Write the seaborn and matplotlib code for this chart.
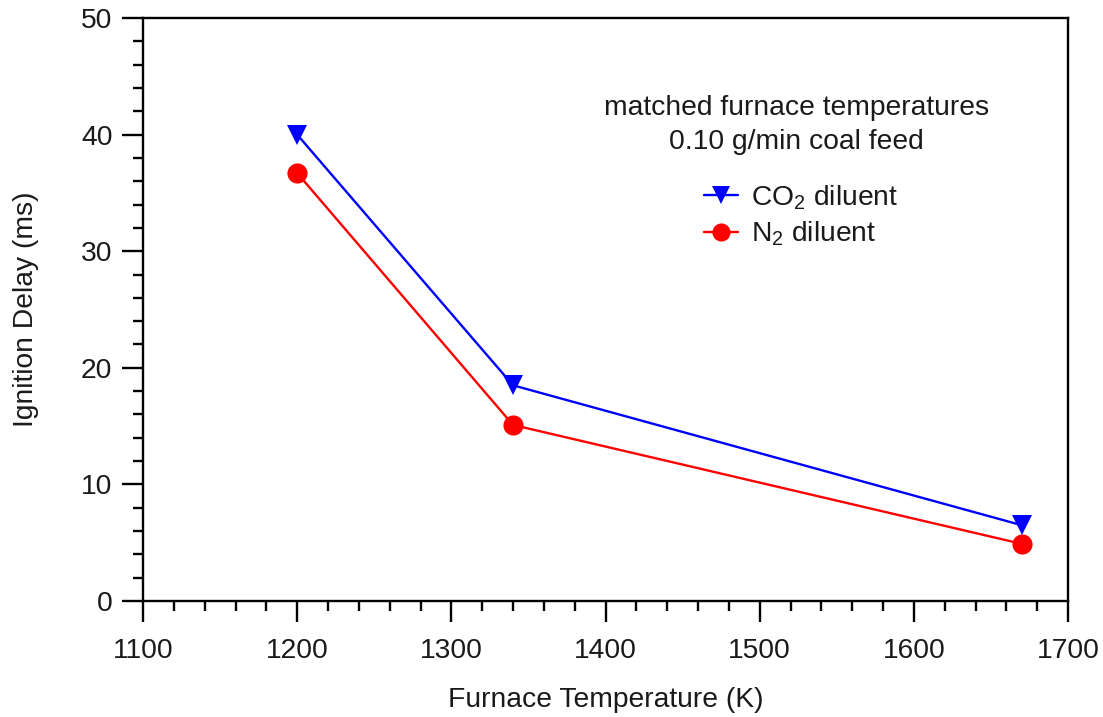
import matplotlib
matplotlib.use("Agg")
import matplotlib.pyplot as plt
import seaborn as sns
import pandas as pd
from matplotlib.ticker import MultipleLocator

temps = [1200, 1340, 1670]
co2_delay = [40.0, 18.5, 6.5]
n2_delay = [36.7, 15.1, 4.9]
series_names = ["CO$_\\mathregular{2}$ diluent", "N$_\\mathregular{2}$ diluent"]

sns.set_theme(style="ticks")
plt.rcParams['font.family'] = ['Liberation Sans', 'DejaVu Sans']
plt.rcParams['mathtext.fontset'] = 'custom'
plt.rcParams['mathtext.rm'] = 'Liberation Sans'
plt.rcParams['mathtext.it'] = 'Liberation Sans:italic'
plt.rcParams['mathtext.bf'] = 'Liberation Sans:bold'

FS = 20.3
TXT = '#1a1a1a'

df = pd.DataFrame({
    "T": temps * 2,
    "delay": co2_delay + n2_delay,
    "series": [series_names[0]] * 3 + [series_names[1]] * 3,
})

fig = plt.figure(figsize=(11.03, 7.17), dpi=100)
ax = fig.add_axes([143/1103, 1 - 601/717, (1068-143)/1103, (601-18)/717])

sns.lineplot(data=df, x="T", y="delay", hue="series", style="series",
             palette=["#0000ff", "#ff0000"], markers=["v", "o"], dashes=False,
             markersize=14.5, linewidth=1.7, markeredgewidth=0, ax=ax)

ax.set_xlim(1100, 1700)
ax.set_ylim(0, 50)
ax.xaxis.set_major_locator(MultipleLocator(100))
ax.xaxis.set_minor_locator(MultipleLocator(20))
ax.yaxis.set_major_locator(MultipleLocator(10))
ax.yaxis.set_minor_locator(MultipleLocator(2))
for s in ax.spines.values():
    s.set_linewidth(1.7)
    s.set_color('black')
ax.tick_params(which='major', direction='out', length=15, width=1.7, labelsize=FS,
               pad=7, colors='black', labelcolor=TXT)
ax.tick_params(which='minor', direction='out', length=7.5, width=1.7, colors='black')
ax.tick_params(axis='x', which='major', pad=12)
ax.tick_params(top=False, right=False, which='both')

ax.set_xlabel("Furnace Temperature (K)", fontsize=FS, color=TXT)
ax.set_ylabel("Ignition Delay (ms)", fontsize=FS, color=TXT)
ax.xaxis.set_label_coords(0.5, -0.148)
ax.yaxis.set_label_coords(-0.112, 0.5)

ax.text(1524, 42.3, "matched furnace temperatures", ha='center', va='center',
        fontsize=FS, color=TXT)
ax.text(1524, 39.4, "0.10 g/min coal feed", ha='center', va='center',
        fontsize=FS, color=TXT)

leg = ax.legend(loc='upper left', bbox_to_anchor=(704/1103, 1 - 183/717),
                bbox_transform=fig.transFigure, frameon=False, fontsize=FS,
                handlelength=1.2, handletextpad=0.45, borderpad=0,
                borderaxespad=0, labelspacing=0.3, markerscale=0.9)
for t in leg.get_texts():
    t.set_color(TXT)

fig.savefig("out.png", dpi=100)
